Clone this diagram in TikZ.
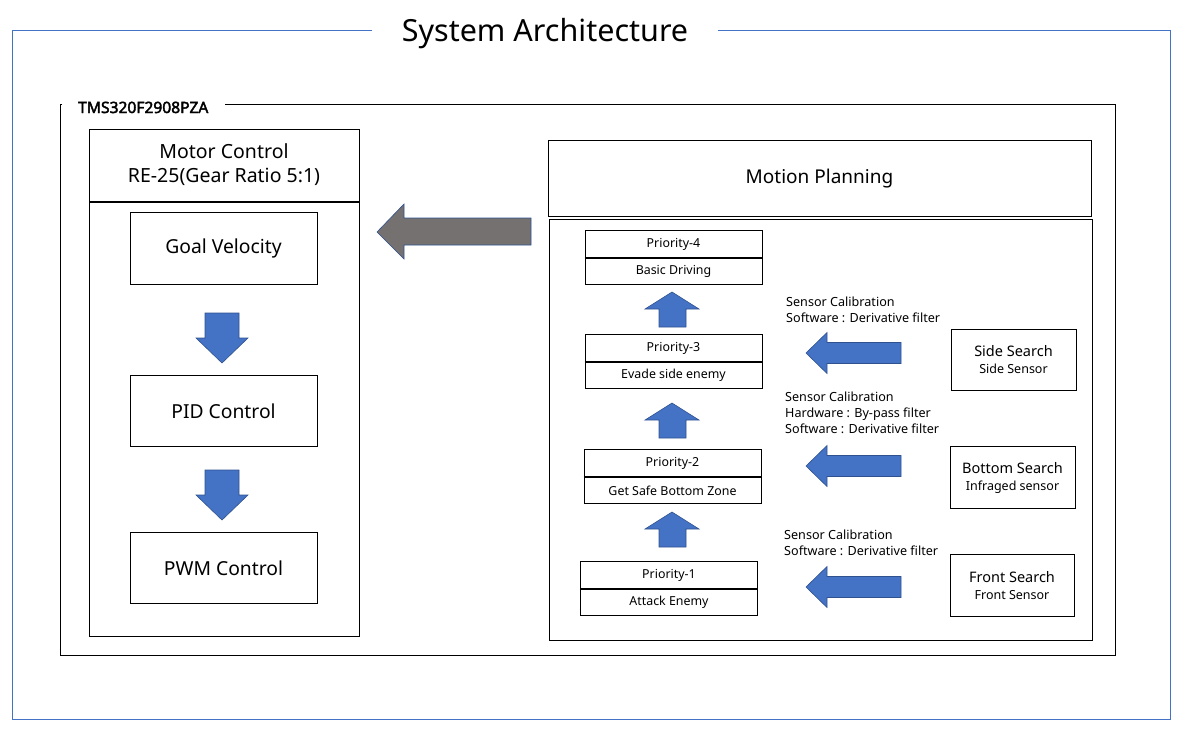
\documentclass[tikz,border=0pt]{standalone}
\usepackage{fontspec}
\setmainfont{Noto Sans}
\newfontfamily\chipfont{Noto Sans}[FakeBold=2.5]
\usetikzlibrary{positioning}

\definecolor{frameblue}{RGB}{68,114,196}
\definecolor{arrblue}{RGB}{68,114,196}
\definecolor{arredge}{RGB}{47,82,143}
\definecolor{arrgray}{RGB}{118,113,113}

\begin{document}
\begin{tikzpicture}[x=1pt, y=-1pt,
    box/.style={draw, line width=1pt, inner sep=0pt, align=center},
    bigbox/.style={box, minimum width=187pt, minimum height=71pt, font=\fontsize{19.3}{23}\selectfont},
    prio/.style={box, minimum width=177pt, minimum height=26.5pt, font=\fontsize{12.4}{15}\selectfont},
    sensor/.style={box, minimum width=125pt, minimum height=62pt, font=\fontsize{14.5}{17}\selectfont},
    note/.style={inner sep=0pt, align=left, font=\fontsize{12.6}{16}\selectfont},
    bluearr/.style={fill=arrblue, draw=arredge, line width=0.6pt},
    grayarr/.style={fill=arrgray, draw=arredge, line width=0.6pt}]
    \useasboundingbox (0,0) rectangle (1198,737);
    
    % outer frame with title
    \node[anchor=base, inner xsep=30pt, inner ysep=0pt, font=\fontsize{30.5}{34}\selectfont] (title) at (545,41) {System Architecture};
    \coordinate (fa) at (12,30);
    \coordinate (fb) at (1170,719);
    \draw[frameblue, line width=1pt] (title.west |- fa) -- (fa) -- (fa |- fb) -- (fb) -- (fb |- fa) -- (title.east |- fa);
    
    % processor frame
    \node[anchor=base west, inner xsep=16pt, inner ysep=0pt, font=\chipfont\fontsize{15.6}{17}\selectfont] (chip) at (62,113) {TMS320F2908PZA};
    \coordinate (ca) at (60,104);
    \coordinate (cb) at (1115,655);
    \draw[line width=1pt] (chip.west |- ca) -- (ca) -- (ca |- cb) -- (cb) -- (cb |- ca) -- (chip.east |- ca);
    
    % motor control
    \node[box, minimum width=270pt, minimum height=72pt, font=\fontsize{19.5}{24}\selectfont] (mhead) at (224,165) {Motor Control\\RE-25(Gear Ratio 5:1)};
    \node[box, minimum width=270pt, minimum height=434pt, anchor=north] (mbody) at (mhead.south) {};
    \node[bigbox, minimum height=72pt] (goal) at (223.5,248.5) {Goal Velocity};
    \node[bigbox] (pid) at (223.5,411) {PID Control};
    \node[bigbox] (pwm) at (223.5,568) {PWM Control};
    \foreach \ty in {363,520}
        \draw[bluearr] (222,\ty) -- ++(-26,-25) -- ++(9,0) -- ++(0,-25) -- ++(34,0) -- ++(0,25) -- ++(9,0) -- cycle;
    
    % motion planning
    \node[box, minimum width=543pt, minimum height=76pt, font=\fontsize{19}{23}\selectfont] (plan) at (819.5,178.5) {Motion Planning};
    \node[box, minimum width=543pt, minimum height=421pt] (planbody) at (820.5,429.5) {};
    \draw[grayarr] (377,232) -- (404,204) -- (404,218) -- (531,218) -- (531,245) -- (404,245) -- (404,259) -- cycle;
    
    % priorities
    \node[prio] (p4) at (673.5,244) {Priority-4};
    \node[prio, anchor=north] (p4b) at (p4.south) {Basic Driving};
    \node[prio] (p3) at (673.5,348) {Priority-3};
    \node[prio, anchor=north] (p3b) at (p3.south) {Evade side enemy};
    \node[prio] (p2) at (672.5,463) {Priority-2};
    \node[prio, anchor=north] (p2b) at (p2.south) {Get Safe Bottom Zone};
    \node[prio] (p1) at (669,575) {Priority-1};
    \node[prio, anchor=north] (p1b) at (p1.south) {Attack Enemy};
    \foreach \p in {p1,p2,p3,p4}
        \draw[line width=2pt] (\p.south west) -- (\p.south east);
    \foreach \ty in {292,403,512}
        \draw[bluearr] (672,\ty) -- ++(27,17) -- ++(-13,0) -- ++(0,18) -- ++(-27,0) -- ++(0,-18) -- ++(-14,0) -- cycle;
    
    % sensors
    \node[sensor, minimum height=61pt] (side) at (1013.5,360) {Side Search\\{\fontsize{12.5}{15}\selectfont Side Sensor}};
    \node[sensor] (bottom) at (1012.5,477.5) {Bottom Search\\{\fontsize{12.5}{15}\selectfont Infraged sensor}};
    \node[sensor, minimum width=124pt] (front) at (1012,585.5) {Front Search\\{\fontsize{12.5}{15}\selectfont Front Sensor}};
    \node[note, anchor=west] (calside) at (786,310) {Sensor Calibration\\Software : Derivative filter};
    \node[note, anchor=west] (calbottom) at (785,413) {Sensor Calibration\\Hardware : By-pass filter\\Software : Derivative filter};
    \node[note, anchor=west] (calfront) at (784,543) {Sensor Calibration\\Software : Derivative filter};
    \foreach \ty in {353,466,587}
        \draw[bluearr] (806,\ty) -- ++(21,-20.5) -- ++(0,10) -- ++(74,0) -- ++(0,21) -- ++(-74,0) -- ++(0,10) -- cycle;
\end{tikzpicture}
\end{document}
